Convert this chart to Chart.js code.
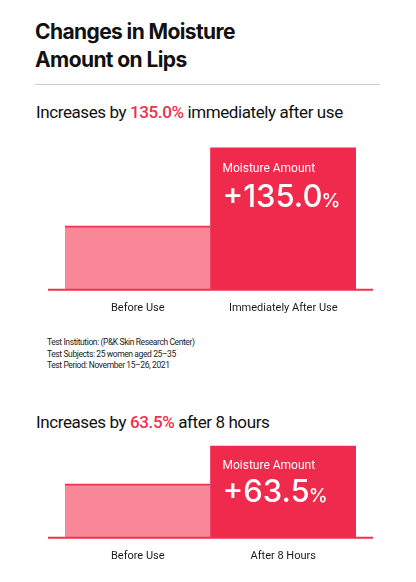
<!DOCTYPE html>
<html>
<head>
<meta charset="utf-8">
<script src="https://cdn.jsdelivr.net/npm/chart.js@4"></script>
<style>
  body { margin: 0; background: #fff; font-family: Inter, "Noto Sans", sans-serif; color: #111; }
  #page { position: relative; width: 416px; height: 582px; overflow: hidden; }
  .abs { position: absolute; white-space: nowrap; }
  #title { left: 35px; top: 18px; font-size: 21px; font-weight: 700; line-height: 28px; letter-spacing: -0.6px; }
  #rule { left: 35px; top: 84px; width: 345px; height: 1px; background: #cfcfcf; }
  .sub { left: 36px; font-family: Roboto, sans-serif; font-size: 17px; font-weight: 400; letter-spacing: -0.4px; line-height: 20px; color: #111; }
  .sub span { color: #f0304e; font-weight: 500; }
  #notes { left: 47px; top: 337px; font-family: Roboto, sans-serif; font-size: 8.5px; line-height: 11.5px; letter-spacing: -0.4px; color: #222; }
  canvas { position: absolute; left: 0; }
</style>
</head>
<body>
<div id="page">
  <div id="title" class="abs">Changes in Moisture<br>Amount on Lips</div>
  <div id="rule" class="abs"></div>
  <div class="abs sub" style="top:102px">Increases by <span>135.0%</span> immediately after use</div>
  <div style="position:absolute;top:120px;left:0;width:416px;height:210px"><canvas id="chart1"></canvas></div>
  <div id="notes" class="abs">Test Institution: (P&amp;K Skin Research Center)<br>Test Subjects: 25 women aged 25–35<br>Test Period: November 15–26, 2021</div>
  <div class="abs sub" style="top:412px">Increases by <span>63.5%</span> after 8 hours</div>
  <div style="position:absolute;top:425px;left:0;width:416px;height:157px"><canvas id="chart2"></canvas></div>
</div>
<script>
// chart data
const labels1 = ['Before Use', 'Immediately After Use'];
const values1 = [100, 222];
const labels2 = ['Before Use', 'After 8 Hours'];
const values2 = [100, 170];
const increase1 = '+135.0';
const increase2 = '+63.5';

const pink = '#f88898';
const red = '#f02a4c';

// baseline that runs a bit past the bars, plus the label inside the tall bar
const barDecor = {
  id: 'barDecor',
  afterDatasetsDraw(chart, args, opts) {
    const ctx = chart.ctx;
    const area = chart.chartArea;
    const y0 = chart.scales.y.getPixelForValue(0);
    ctx.save();
    ctx.strokeStyle = '#f0304e';
    ctx.lineWidth = 2;
    ctx.beginPath();
    ctx.moveTo(area.left - 17, y0);
    ctx.lineTo(area.right + 17, y0);
    ctx.stroke();

    const bar = chart.getDatasetMeta(0).data[1];
    const x = bar.x - bar.width / 2 + 12;
    ctx.fillStyle = '#fff';
    ctx.textBaseline = 'middle';
    ctx.textAlign = 'left';
    ctx.font = '400 12px Roboto, sans-serif';
    ctx.fillText('Moisture Amount', x, bar.y + opts.labelDy);
    ctx.font = '500 31px Inter, sans-serif';
    ctx.fillText(opts.value, x, bar.y + opts.valueDy);
    const w = ctx.measureText(opts.value).width;
    ctx.font = '500 19px Inter, sans-serif';
    ctx.fillText('%', x + w - 1, bar.y + opts.valueDy + 3);
    ctx.restore();
  }
};

function makeChart(id, labels, values, max, top, bottomPad, value, labelDy, valueDy) {
  return new Chart(document.getElementById(id), {
    type: 'bar',
    data: {
      labels: labels,
      datasets: [{
        data: values,
        backgroundColor: [pink, red],
        borderColor: ['#f0304e', red],
        borderWidth: [{ top: 2, left: 0, right: 0, bottom: 0 }, 0],
        borderSkipped: false,
        barPercentage: 1,
        categoryPercentage: 1
      }]
    },
    options: {
      responsive: true,
      maintainAspectRatio: false,
      animation: false,
      layout: { padding: { left: 65, right: 60, top: top, bottom: bottomPad } },
      plugins: {
        legend: { display: false },
        tooltip: { enabled: false },
        barDecor: { value: value, labelDy: labelDy, valueDy: valueDy }
      },
      scales: {
        x: {
          grid: { display: false, drawTicks: false },
          border: { display: false },
          ticks: { color: '#1a1a1a', font: { family: 'Roboto', size: 11 }, padding: 12 }
        },
        y: {
          display: false,
          min: 0,
          max: max
        }
      }
    },
    plugins: [barDecor]
  });
}

makeChart('chart1', labels1, values1, 250, 10, 3, increase1, 21, 50);
makeChart('chart2', labels2, values2, 200, 5, 7, increase2, 20, 47);
</script>
</body>
</html>
